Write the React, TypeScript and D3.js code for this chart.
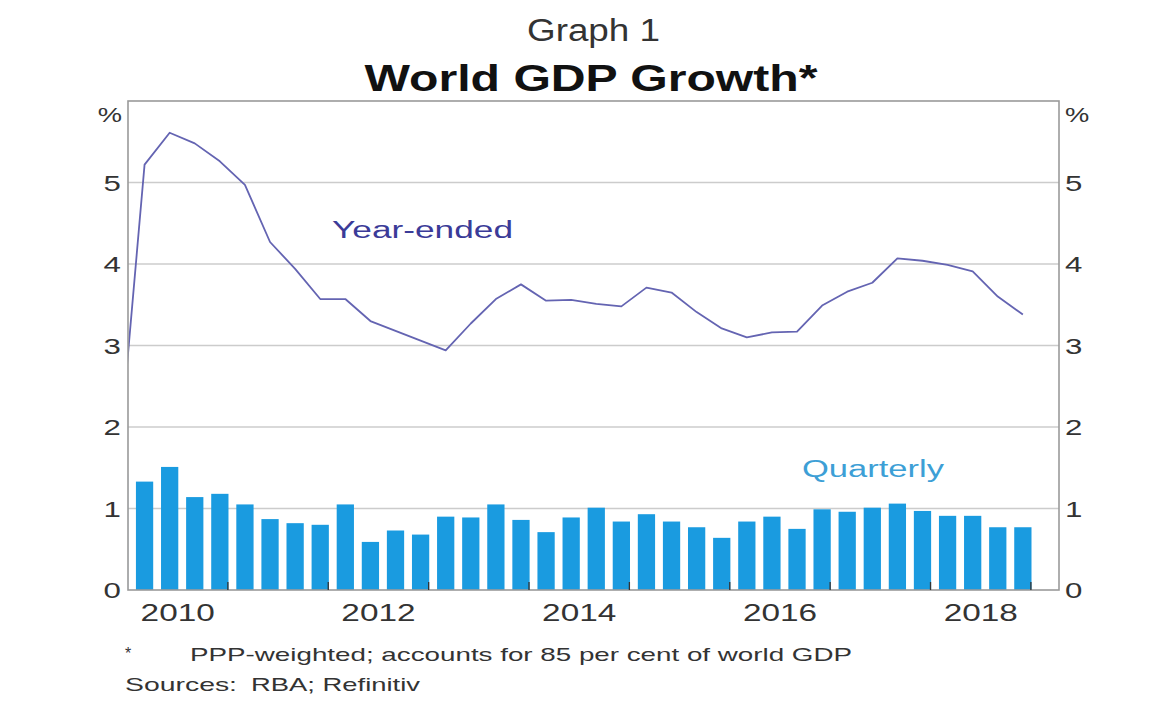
import React from "react";
import * as d3 from "d3";

// ---- Data ----
const quarters: string[] = [
  "2009Q4",
  "2010Q1", "2010Q2", "2010Q3", "2010Q4",
  "2011Q1", "2011Q2", "2011Q3", "2011Q4",
  "2012Q1", "2012Q2", "2012Q3", "2012Q4",
  "2013Q1", "2013Q2", "2013Q3", "2013Q4",
  "2014Q1", "2014Q2", "2014Q3", "2014Q4",
  "2015Q1", "2015Q2", "2015Q3", "2015Q4",
  "2016Q1", "2016Q2", "2016Q3", "2016Q4",
  "2017Q1", "2017Q2", "2017Q3", "2017Q4",
  "2018Q1", "2018Q2", "2018Q3", "2018Q4",
];

const quarterlyGrowth: number[] = [
  1.42,
  1.33, 1.51, 1.14, 1.18,
  1.05, 0.87, 0.82, 0.8,
  1.05, 0.59, 0.73, 0.68,
  0.9, 0.89, 1.05, 0.86,
  0.71, 0.89, 1.01, 0.84,
  0.93, 0.84, 0.77, 0.64,
  0.84, 0.9, 0.75, 0.99,
  0.96, 1.01, 1.06, 0.97,
  0.91, 0.91, 0.77, 0.77,
];

const yearEndedGrowth: number[] = [
  1.7,
  5.22, 5.61, 5.48, 5.26,
  4.97, 4.27, 3.94, 3.57,
  3.57, 3.3, 3.18, 3.06,
  2.94, 3.27, 3.57, 3.75,
  3.55, 3.56, 3.51, 3.48,
  3.71, 3.65, 3.41, 3.21,
  3.1, 3.16, 3.17, 3.49,
  3.66, 3.77, 4.07, 4.04,
  3.99, 3.91, 3.6, 3.38,
];

const yTicks: number[] = [0, 1, 2, 3, 4, 5];
const yearLabels: number[] = [2010, 2012, 2014, 2016, 2018];
const yearTicks: number[] = [2011, 2012, 2013, 2014, 2015, 2016, 2017, 2018, 2019];

const FONT = "'Liberation Sans', Arial, Helvetica, sans-serif";

// ---- Layout ----
const W = 1160;
const H = 704;
const plot = { left: 128, right: 1059, top: 101, bottom: 590 };

function quarterToYear(q: string): number {
  const year = +q.slice(0, 4);
  const qi = +q.slice(5) - 1;
  return year + qi * 0.25 + 0.17;
}

const x = d3.scaleLinear().domain([2010, 2019.28]).range([plot.left - 0.5, plot.right]);
const y = d3.scaleLinear().domain([0, 6]).range([plot.bottom, plot.top]);

const barW = x(2010 + 0.172) - x(2010);

const lineGen = d3
  .line<number>()
  .x((_, i) => x(quarterToYear(quarters[i])))
  .y((d) => y(d));

const SX = 1.42;

function StretchText(props: {
  x: number;
  y: number;
  size: number;
  anchor?: "start" | "middle" | "end";
  fill?: string;
  weight?: string | number;
  sx?: number;
  children: React.ReactNode;
}) {
  const { x: tx, y: ty, size, anchor = "start", fill = "#333", weight = "normal", sx = SX } = props;
  return (
    <text
      transform={`translate(${tx},${ty}) scale(${sx},1)`}
      fontSize={size}
      fontFamily={FONT}
      textAnchor={anchor}
      fill={fill}
      fontWeight={weight}
    >
      {props.children}
    </text>
  );
}

function FitText(props: {
  x: number;
  y: number;
  size: number;
  width: number;
  anchor?: "start" | "middle" | "end";
  fill?: string;
  weight?: string | number;
  children: React.ReactNode;
}) {
  const { x: tx, y: ty, size, width, anchor = "start", fill = "#333", weight = "normal" } = props;
  return (
    <text
      x={tx}
      y={ty}
      fontSize={size}
      fontFamily={FONT}
      textAnchor={anchor}
      fill={fill}
      fontWeight={weight}
      textLength={width}
      lengthAdjust="spacingAndGlyphs"
    >
      {props.children}
    </text>
  );
}

export default function App() {
  return (
    <svg
      width={W}
      height={H}
      viewBox={`0 0 ${W} ${H}`}
      style={{ position: "absolute", left: 0, top: 0, display: "block", background: "#fff" }}
    >
      <defs>
        <clipPath id="plotClip">
          <rect x={plot.left} y={plot.top} width={plot.right - plot.left} height={plot.bottom - plot.top} />
        </clipPath>
      </defs>

      {/* Titles */}
      <FitText x={593.5} y={41} size={31} width={133} anchor="middle" fill="#333">
        Graph 1
      </FitText>
      <FitText x={591} y={91} size={36} width={453} anchor="middle" fill="#111" weight="bold">
        World GDP Growth*
      </FitText>

      {/* Gridlines */}
      {yTicks
        .filter((t) => t > 0)
        .map((t) => (
          <line
            key={`g${t}`}
            x1={plot.left}
            x2={plot.right}
            y1={y(t)}
            y2={y(t)}
            stroke="#cccccc"
            strokeWidth={1.3}
          />
        ))}

      {/* Bars and line */}
      <g clipPath="url(#plotClip)">
        {quarterlyGrowth.map((v, i) => (
          <rect
            key={`b${i}`}
            x={x(quarterToYear(quarters[i])) - barW / 2}
            y={y(v)}
            width={barW}
            height={y(0) - y(v)}
            fill="#1a9be0"
          />
        ))}
        <path d={lineGen(yearEndedGrowth) ?? ""} fill="none" stroke="#6464b2" strokeWidth={1.8} strokeLinejoin="round" />
      </g>

      {/* Frame */}
      <rect
        x={plot.left}
        y={plot.top}
        width={plot.right - plot.left}
        height={plot.bottom - plot.top}
        fill="none"
        stroke="#9a9a9a"
        strokeWidth={1.6}
      />

      {/* Year tick marks */}
      {yearTicks.map((t) => (
        <line
          key={`t${t}`}
          x1={x(t)}
          x2={x(t)}
          y1={plot.bottom}
          y2={plot.bottom - 8}
          stroke="#333"
          strokeWidth={1.3}
        />
      ))}

      {/* Y tick labels */}
      {yTicks.map((t) => (
        <g key={`yl${t}`}>
          <StretchText x={121} y={y(t) + 8} size={22} anchor="end" fill="#333">
            {t}
          </StretchText>
          <StretchText x={1065} y={y(t) + 8} size={22} anchor="start" fill="#333">
            {t}
          </StretchText>
        </g>
      ))}
      <StretchText x={122} y={122} size={21} anchor="end" fill="#333" sx={1.3}>
        %
      </StretchText>
      <StretchText x={1065} y={122} size={21} anchor="start" fill="#333" sx={1.3}>
        %
      </StretchText>

      {/* X labels */}
      {yearLabels.map((yr) => (
        <StretchText key={`xl${yr}`} x={x(yr + 0.5)} y={621} size={23} anchor="middle" fill="#333" sx={1.45}>
          {yr}
        </StretchText>
      ))}

      {/* Series labels */}
      <FitText x={332} y={238} size={23} width={181} fill="#3b3b98">
        Year-ended
      </FitText>
      <FitText x={802} y={477} size={23} width={142} fill="#3d9fd6">
        Quarterly
      </FitText>

      {/* Notes */}
      <text x={125} y={659} fontSize={16} fontFamily={FONT} fill="#333">
        *
      </text>
      <FitText x={190} y={661} size={19} width={662} fill="#333">
        PPP-weighted; accounts for 85 per cent of world GDP
      </FitText>
      <FitText x={125} y={691} size={19} width={112} fill="#333">
        Sources:
      </FitText>
      <FitText x={251} y={691} size={19} width={169} fill="#333">
        RBA; Refinitiv
      </FitText>
    </svg>
  );
}
